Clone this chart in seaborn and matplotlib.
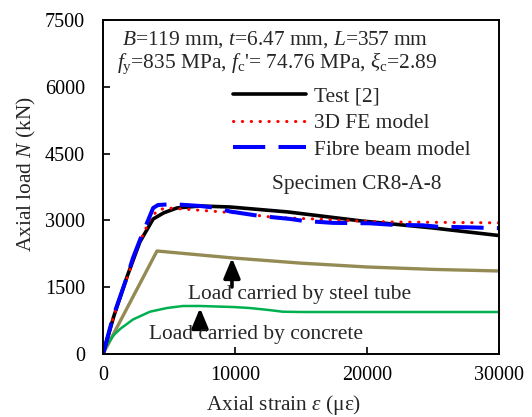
import matplotlib
matplotlib.use("Agg")
import matplotlib.pyplot as plt
import seaborn as sns
import pandas as pd

# ---- data (strain in micro-strain, load in kN) ----
test_x = [0, 800, 1800, 2800, 3800, 4600, 5600, 7350, 9620, 14000, 19500, 25000, 30000]
test_y = [0, 830, 1720, 2520, 3032, 3170, 3279, 3324, 3301, 3190, 2990, 2830, 2660]

fe_x = [0, 760, 1820, 2800, 3600, 4170, 4850, 6060, 8100, 10150, 13000, 16000,
        19000, 22000, 26000, 30000]
fe_y = [0, 800, 1700, 2520, 3050, 3234, 3279, 3256, 3211, 3166, 3066, 3032,
        2990, 2964, 2955, 2945]

fibre_x = [0, 760, 1820, 2270, 2800, 3800, 4170, 5300, 7350, 8640, 9620, 11900,
           14200, 15150, 17400, 20200, 22000, 24200, 25300, 27600, 30000]
fibre_y = [0, 831, 1730, 2156, 2560, 3279, 3346, 3365, 3324, 3279, 3200, 3099,
           3032, 2990, 2945, 2935, 2900, 2890, 2860, 2845, 2825]

tube_x = [0, 4090, 9850, 15000, 20000, 25000, 30000]
tube_y = [0, 2313, 2156, 2040, 1954, 1900, 1864]

conc_x = [0, 300, 800, 1290, 2270, 3560, 4850, 6060, 7350, 9850, 11100, 12500,
          13600, 15000, 30000]
conc_y = [0, 200, 420, 560, 775, 950, 1033, 1078, 1078, 1055, 1033, 990,
          950, 943, 943]

x_ticks = [0, 10000, 20000, 30000]
y_ticks = [0, 1500, 3000, 4500, 6000, 7500]

sns.set_style("ticks")
plt.rcParams["font.family"] = ["Liberation Serif", "DejaVu Serif"]
plt.rcParams["mathtext.fontset"] = "custom"
plt.rcParams["mathtext.rm"] = "Liberation Serif"
plt.rcParams["mathtext.it"] = "Liberation Serif:italic"
plt.rcParams["font.size"] = 15.4

fig = plt.figure(figsize=(5.32, 4.17), dpi=100)
ax = fig.add_axes([103 / 532, 63 / 417, 396 / 532, 334 / 417])


def frame(x, y):
    return pd.DataFrame({"x": x, "y": y})


sns.lineplot(data=frame(tube_x, tube_y), x="x", y="y", sort=False, ax=ax,
             color="#948A54", linewidth=2.4)
sns.lineplot(data=frame(conc_x, conc_y), x="x", y="y", sort=False, ax=ax,
             color="#00B050", linewidth=1.8)
sns.lineplot(data=frame(test_x, test_y), x="x", y="y", sort=False, ax=ax,
             color="black", linewidth=2.6, label="Test [2]")
sns.lineplot(data=frame(fe_x, fe_y), x="x", y="y", sort=False, ax=ax,
             color="red", linewidth=2.2, linestyle=(0, (0.1, 2.8)),
             dash_capstyle="round", label="3D FE model")
sns.lineplot(data=frame(fibre_x, fibre_y), x="x", y="y", sort=False, ax=ax,
             color="blue", linewidth=2.9, linestyle=(0, (8, 3.3)),
             label="Fibre beam model")

ax.set_xlim(0, 30000)
ax.set_ylim(0, 7500)
ax.set_xticks(x_ticks)
ax.set_yticks(y_ticks)
ax.tick_params(direction="in", length=5, width=1.2, colors="black", labelsize=14.5)
ax.tick_params(axis="x", pad=9)
ax.tick_params(axis="y", pad=13)
for sp in ax.spines.values():
    sp.set_visible(True)
    sp.set_color("black")
    sp.set_linewidth(1.4)

ax.set_xlabel(r"Axial strain $\varepsilon$ (με)")
ax.set_ylabel(r"Axial load $N$ (kN)")
ax.xaxis.set_label_coords(0.457, -0.153)
ax.xaxis.label.set_verticalalignment("center")
ax.yaxis.set_label_coords(-0.192, 0.539)
ax.yaxis.label.set_verticalalignment("center")

ax.legend(loc="upper left", bbox_to_anchor=(0.328, 0.800), frameon=False,
          handlelength=3.4, handletextpad=0.4, labelspacing=0.3,
          borderpad=0, borderaxespad=0, fontsize=15.4)

ax.text(0.048, 0.940, r"$B$=119 mm, $t$=6.47 mm, $L$=357 mm",
        transform=ax.transAxes, ha="left", va="center")
ax.text(0.035, 0.871,
        r"$f_\mathrm{y}$=835 MPa, $f_\mathrm{c}$'= 74.76 MPa, $\xi_\mathrm{c}$=2.89",
        transform=ax.transAxes, ha="left", va="center")
ax.text(0.641, 0.506, "Specimen CR8-A-8", transform=ax.transAxes,
        ha="center", va="center")

arrow = dict(arrowstyle="-|>,head_length=0.6,head_width=0.25", color="black",
             lw=2.6, shrinkA=0, shrinkB=0, mutation_scale=20)
ax.annotate("", xy=(9770, 2156), xytext=(9770, 1505), arrowprops=arrow)
ax.annotate("", xy=(7350, 1033), xytext=(7350, 584), arrowprops=arrow)
ax.text(14920, 1325, "Load carried by steel tube", ha="center", va="center")
ax.text(11590, 427, "Load carried by concrete", ha="center", va="center")

fig.savefig("out.png", dpi=100)
